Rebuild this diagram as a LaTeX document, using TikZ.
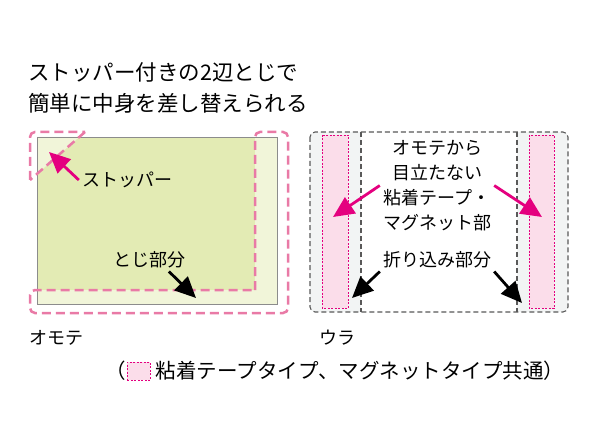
\documentclass[tikz,border=0pt]{standalone}
\usepackage{fontspec}
\setmainfont{Noto Sans CJK JP}
\usetikzlibrary{arrows.meta,positioning}
\definecolor{cardgreen}{HTML}{E3EBB4}
\definecolor{cardlight}{HTML}{F1F5D9}
\definecolor{tapepink}{HTML}{FBDDEA}
\definecolor{foldgray}{HTML}{F2F4F4}
\definecolor{hotpink}{HTML}{E4007F}
\definecolor{dashpink}{HTML}{E97AA6}

\begin{document}
\begin{tikzpicture}[x=1pt, y=-1pt, >={Triangle[length=21pt,width=19pt]},
  bind/.style={dashpink, line width=2.5pt, dash pattern=on 9pt off 5pt},
  fold/.style={black!65, line width=1.1pt, dash pattern=on 5pt off 3pt},
  tape/.style={fill=tapepink, draw=hotpink, line width=0.7pt, dash pattern=on 2pt off 1.5pt},
  lbl/.style={font=\fontsize{18}{25}\selectfont, inner sep=3pt},
  legendfont/.style={font=\fontsize{20.5}{24}\selectfont, inner sep=0pt},
  pinkarrow/.style={->, hotpink, line width=2.8pt},
  blackarrow/.style={->, black, line width=2.8pt}]
  \useasboundingbox (0,0) rectangle (600,425);

  % title
  \node[anchor=west, align=left, inner sep=0pt, font=\fontsize{21.5}{31}\selectfont]
    (title) at (28,87.5) {ストッパー付きの2辺とじで\\簡単に中身を差し替えられる};

  % front side
  \fill[cardgreen] (37,137) rectangle (277,304);
  \fill[cardlight] (255,137) rectangle (277,304);
  \fill[cardlight] (37,290) rectangle (255,304);
  \fill[cardlight] (37,137) -- (79.3,137) -- (37,173.9) -- cycle;
  \draw[black!45, line width=0.9pt] (37,137) rectangle (277,304);
  \draw[bind, rounded corners=5pt] (30,180) -- (30,132) -- (85,132);
  \draw[bind] (85,132) -- (30,180);
  \draw[bind, rounded corners=5pt] (255,290) -- (255,132) -- (288,132) -- (288,313)
    -- (30,313) -- (30,290) -- (255,290);

  \node[lbl] (stopper) at (127,180) {ストッパー};
  \node[lbl] (toji) at (149,260) {とじ部分};
  \coordinate (stoptip) at (49,152);
  \coordinate (tojitip) at (196,298);
  \draw[pinkarrow] (stopper.west) -- (stoptip);
  \draw[blackarrow] (toji.-30) -- (tojitip);
  \node[lbl, anchor=west] (omote) at (26,338) {オモテ};

  % back side
  \fill[foldgray, rounded corners=5pt] (310,132) rectangle (568,312);
  \fill[white] (361,132) rectangle (517,312);
  \draw[tape] (322,135) rectangle (348,308);
  \draw[tape] (529,135) rectangle (554,308);
  \draw[fold] (361,132) -- (361,312);
  \draw[fold] (517,132) -- (517,312);
  \draw[fold, rounded corners=5pt] (310,132) rectangle (568,312);

  \node[lbl, align=center] (tapelbl) at (437,185.5)
    {オモテから\\目立たない\\粘着テープ・\\マグネット部};
  \node[lbl] (foldlbl) at (437,260) {折り込み部分};
  \coordinate (tapetipl) at (333,217);
  \coordinate (tapetipr) at (542,217);
  \coordinate (foldtipl) at (352,298);
  \coordinate (foldtipr) at (522,303);
  \draw[pinkarrow] (tapelbl.west) -- (tapetipl);
  \draw[pinkarrow] (tapelbl.east) -- (tapetipr);
  \draw[blackarrow] (foldlbl.south west) -- (foldtipl);
  \draw[blackarrow] (foldlbl.south east) -- (foldtipr);
  \node[lbl, anchor=west] (ura) at (316,338) {ウラ};

  % legend
  \node[legendfont, anchor=east] (lparen) at (126,371) {（};
  \node[tape, minimum width=23pt, minimum height=18pt, inner sep=0pt, anchor=west]
    (legendbox) at (127,371) {};
  \node[legendfont, right=5pt of legendbox] (legendtxt)
    {粘着テープタイプ、マグネットタイプ共通）};
\end{tikzpicture}
\end{document}
